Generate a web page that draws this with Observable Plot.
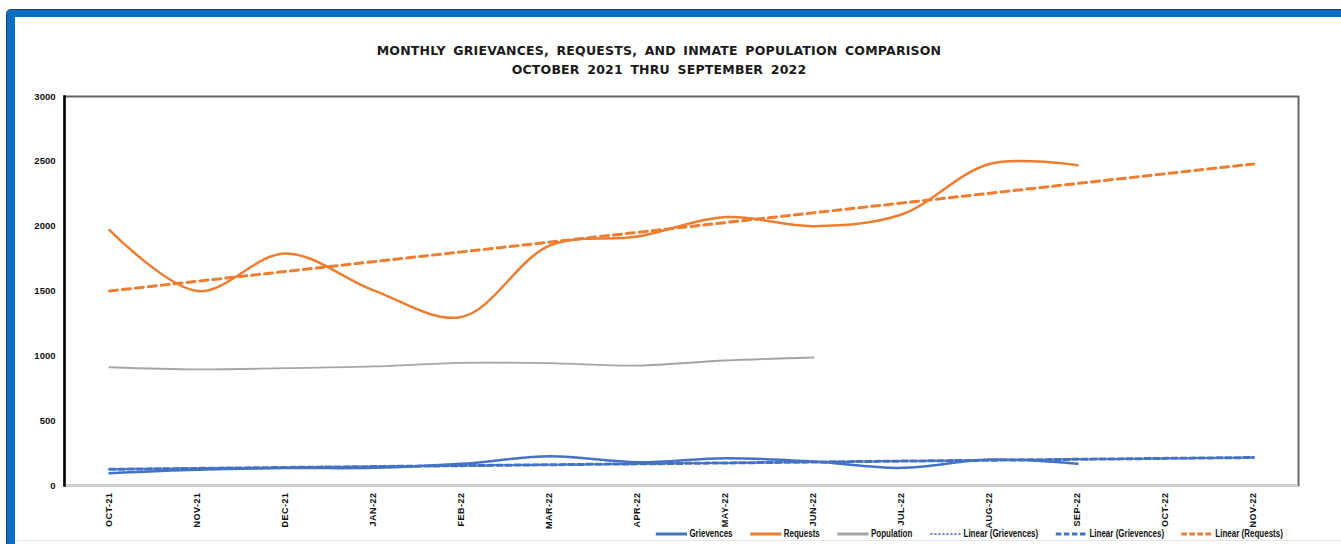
<!DOCTYPE html>
<html><head><meta charset="utf-8">
<script src="https://cdn.jsdelivr.net/npm/d3@7"></script>
<script src="https://cdn.jsdelivr.net/npm/@observablehq/plot@0.6"></script>
<style>
html,body{margin:0;padding:0;background:#fff;}
body{width:1341px;height:544px;overflow:hidden;position:relative;font-family:"Liberation Sans",Arial,sans-serif;}
#frame{position:absolute;left:7px;top:10px;width:1400px;height:620px;border-top:7px solid #0A6FC2;border-left:8px solid #0A6FC2;border-top-left-radius:5px;box-sizing:border-box;box-shadow:-1px -1px 0 #1d3f66;}
#bottomline{position:absolute;left:15px;top:540px;width:1330px;height:1px;background:#e4e4e4;}
#title{position:absolute;left:0;width:1318px;top:41px;text-align:center;font-family:"DejaVu Sans",sans-serif;font-weight:bold;font-size:12.5px;letter-spacing:0.2px;word-spacing:3px;line-height:19px;color:#1a1a1a;}
#chart{position:absolute;left:0;top:86px;}
#chart svg{overflow:visible;}
#chart g[aria-label="x-axis tick label"] text{font-family:"Liberation Sans",Arial,sans-serif;font-weight:bold;font-size:9px;letter-spacing:0.5px;fill:#111;}
#chart g[aria-label="y-axis tick label"] text{font-family:"Liberation Sans",Arial,sans-serif;font-weight:bold;font-size:9.5px;fill:#111;}
#legend{position:absolute;top:528px;left:655px;display:flex;align-items:center;font-weight:bold;font-size:10px;color:#111;white-space:nowrap;transform:scaleX(0.8);transform-origin:left center;}
#legend .item{display:flex;align-items:center;margin-right:21px;}
#legend svg{margin-right:2px;}
</style>
</head>
<body>
<div id="frame"></div>
<div id="bottomline"></div>
<div id="title">MONTHLY GRIEVANCES, REQUESTS, AND INMATE POPULATION COMPARISON<br>OCTOBER 2021 THRU SEPTEMBER 2022</div>
<div id="chart"></div>
<div id="legend"></div>
<script>
// Categories (two extra months carry the forecast trend lines)
const months = ["OCT-21","NOV-21","DEC-21","JAN-22","FEB-22","MAR-22","APR-22","MAY-22","JUN-22","JUL-22","AUG-22","SEP-22","OCT-22","NOV-22"];
const yTicks = [0,500,1000,1500,2000,2500,3000];

// Series values
const grievances = [95,121,134,136,167,225,180,211,185,136,200,167];
const requests   = [1970,1500,1790,1505,1300,1850,1920,2070,2000,2090,2480,2470];
const population = [912,895,905,918,946,943,925,964,987];

// Linear trend lines (start OCT-21, end NOV-22)
const trendMonths = ["OCT-21","NOV-22"];
const grievTrend  = [125,216];
const reqTrend    = [1500,2480];

// Legend
const legendLabels = ["Grievences","Requests","Population","Linear (Grievences)","Linear (Grievences)","Linear (Requests)"];

const C = {griev:"#4472C4", req:"#ED7D31", pop:"#A5A5A5"};

const toRows = (vals, ms) => vals.map((v,i)=>({month:ms[i], value:v}));
const gRows = toRows(grievances, months);
const rRows = toRows(requests, months);
const pRows = toRows(population, months);
const gtRows = toRows(grievTrend, trendMonths);
const rtRows = toRows(reqTrend, trendMonths);

const chart = Plot.plot({
  width:1341, height:450,
  marginLeft:64, marginRight:43, marginTop:10, marginBottom:51,
  style:{background:"transparent", overflow:"visible"},
  x:{type:"point", domain:months, padding:0.5, label:null},
  y:{domain:[0,3000], label:null},
  marks:[
    Plot.frame({stroke:"#666", strokeWidth:2}),
    Plot.ruleY([0], {stroke:"#d9d9d9", strokeWidth:2}),
    Plot.frame({anchor:"left", stroke:"#000", strokeWidth:2.5}),
    Plot.axisY({ticks:yTicks, tickFormat:d=>String(d), tickSize:0, tickPadding:9, label:null}),
    Plot.axisX({tickSize:0, tickRotate:-90, tickPadding:7, label:null}),
    Plot.line(pRows, {x:"month", y:"value", stroke:C.pop, strokeWidth:1.8, curve:"catmull-rom"}),
    Plot.line(gtRows, {x:"month", y:"value", stroke:C.griev, strokeWidth:1.5, strokeDasharray:"3,2"}),
    Plot.line(gtRows, {x:"month", y:"value", stroke:C.griev, strokeWidth:3, strokeDasharray:"6,3"}),
    Plot.line(gRows, {x:"month", y:"value", stroke:C.griev, strokeWidth:2.5, curve:"catmull-rom"}),
    Plot.line(rtRows, {x:"month", y:"value", stroke:C.req, strokeWidth:3, strokeDasharray:"8,5"}),
    Plot.line(rRows, {x:"month", y:"value", stroke:C.req, strokeWidth:2.5, curve:"catmull-rom"})
  ]
});
document.getElementById("chart").appendChild(chart);

// Legend
const styles = [
  {c:C.griev, w:3, d:null},
  {c:C.req, w:3, d:null},
  {c:C.pop, w:3, d:null},
  {c:C.griev, w:1.5, d:"3,2"},
  {c:C.griev, w:3, d:"7,3"},
  {c:C.req, w:3, d:"7,3"}
];
const leg = document.getElementById("legend");
legendLabels.forEach((lab,i)=>{
  const s = styles[i];
  const it = document.createElement("div");
  it.className = "item";
  it.innerHTML = `<svg width="41" height="8"><line x1="1" y1="4" x2="40" y2="4" stroke="${s.c}" stroke-width="${s.w}" ${s.d?`stroke-dasharray="${s.d}"`:""}/></svg><span>${lab}</span>`;
  leg.appendChild(it);
});
</script>
</body></html>
